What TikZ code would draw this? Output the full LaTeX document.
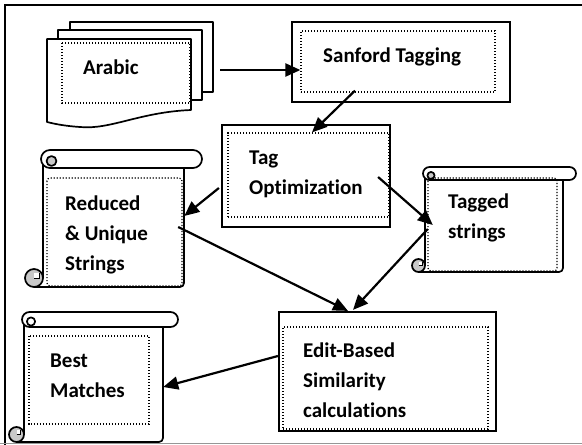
\documentclass[tikz,border=0pt]{standalone}
\usepackage{fontspec}
\setmainfont[Ligatures=NoCommon]{Carlito}
\usetikzlibrary{arrows.meta,calc}
\definecolor{curlgray}{RGB}{200,200,200}
\definecolor{framegray}{RGB}{150,150,150}
\tikzset{
  outline/.style={draw=black, line width=1.7pt, line join=round},
  boxline/.style={draw=black, line width=2.2pt, fill=white, inner sep=0pt},
  dotbox/.style={draw=black, line width=1.2pt, dash pattern=on 1.2pt off 1.8pt, inner sep=0pt},
  region/.style={inner sep=0pt, draw=none},
  label/.style={font=\fontsize{21}{30}\selectfont\bfseries, align=left, anchor=base west, inner sep=0pt},
  arrow/.style={line width=2.2pt, -{Triangle[length=15pt,width=13pt]}},
}
% Horizontal scroll: #1 name, #2 left, #3 top, #4 right, #5 bottom,
% #6 roll height, #7 fill of the upper curl
\newcommand\hscroll[7]{%
  \pgfmathsetmacro\sr{#6/2}%
  \pgfmathsetmacro\sa{\sr-2}%
  \fill[white] (#2,#3+\sr) -- (#2,#5) -- (#4,#5) -- (#4,#3+\sr) -- cycle;
  \draw[outline] (#2,#3+\sr) -- (#2,#5-\sr);
  \draw[outline] (#2-\sr,#5) [rounded corners=4pt] -- (#4,#5) -- (#4,#3+#6);
  \draw[outline, fill=white, rounded corners=\sr pt] (#2+\sa-\sr,#3) rectangle (#4+#6,#3+#6);
  \draw[outline, fill=#7] (#2+\sa+1.5,#3+\sr+2) circle[radius=\sr*0.55];
  \draw[outline, fill=curlgray] (#2-\sr,#5-\sr) circle[radius=\sr];
  \fill[white] (#2-\sr,#5-\sr) rectangle ++(\sr*0.55,-\sr*0.6);
  \draw[line width=0.9pt] (#2-\sr,#5-\sr) -- ++(\sr*0.55,0) -- ++(0,-\sr*0.6);
  \node[region, minimum width=#4-#2, minimum height=#5-#3] (#1) at ({(#2+#4)/2},{(#3+#5)/2}) {};
}
\begin{document}
\begin{tikzpicture}[x=1pt,y=-1pt]
\useasboundingbox (0,0) rectangle (582,445);
% frame
\draw[line width=2.2pt] (5,445) -- (5,5) -- (582,5);
\draw[framegray, line width=1.5pt] (0,443.5) -- (582,443.5);

% stacked documents
\draw[outline, fill=white] (70,22) rectangle (213,92);
\draw[outline, fill=white] (58,30) rectangle (202,100);
\draw[outline, fill=white] (47,39) -- (191,39) -- (191,110)
  .. controls (140,112) and (110,130) .. (80,127)
  .. controls (65,126) and (55,124) .. (47,122) -- cycle;
\node[region, minimum width=144, minimum height=83] (arabic) at (119,80.5) {};
\draw[dotbox] (62,43) rectangle (190,103);
\node[label] (arabictext) at (83,74) {Arabic};

% process boxes (the last line of each label sits on the given baseline)
\node[boxline, minimum width=218, minimum height=80] (sanford) at (401,62) {};
\node[dotbox, minimum width=194, minimum height=61] (sanfordin) at (398,61.5) {};
\node[label] (sanfordtext) at (323,62) {Sanford Tagging};

\node[boxline, minimum width=168, minimum height=102] (tagopt) at (306,176) {};
\node[dotbox, minimum width=161, minimum height=84] (tagoptin) at (308.5,175) {};
\node[label] (tagopttext) at (249,194) {Tag\\Optimization};

\node[boxline, minimum width=217, minimum height=119] (edit) at (387.5,371.5) {};
\node[dotbox, minimum width=205, minimum height=102] (editin) at (385.5,378) {};
\node[label] (edittext) at (303,417) {Edit-Based\\Similarity\\calculations};

% scrolls
\hscroll{reduced}{43}{150}{184}{287}{18}{curlgray}
\draw[dotbox, rounded corners=3pt] (47,178) rectangle (182,286);
\node[label] (reducedtext) at (65,270) {Reduced\\\& Unique\\Strings};

\hscroll{tagged}{425}{167}{563}{272}{13}{curlgray}
\draw[dotbox, rounded corners=3pt] (428,178) rectangle (557,271);
\node[label] (taggedtext) at (448,238) {Tagged\\strings};

\hscroll{best}{24}{312}{163}{442}{15}{white}
\draw[dotbox] (29,336) rectangle (149,424);
\node[label] (besttext) at (50,397) {Best\\Matches};

% connectors
\draw[arrow] ([xshift=29pt,yshift=10.5pt]arabic.east) -- ([yshift=-8.5pt]sanfordin.west);
\draw[arrow] ([xshift=-43pt,yshift=2pt]sanfordin.south) -- ([xshift=3.5pt]tagoptin.north);
\draw[arrow] ([xshift=-2pt,yshift=-12pt]tagopt.west) -- ([yshift=2.5pt]reduced.east);
\draw[arrow] ([xshift=-13pt,yshift=-1pt]tagopt.east) -- ([xshift=8pt,yshift=-5.5pt]tagged.west);
\draw[arrow] ([xshift=-6pt,yshift=-8.5pt]reduced.east) -- ([xshift=-39.5pt]edit.north);
\draw[arrow] ([xshift=3pt,yshift=-9.5pt]tagged.west) -- ([xshift=-34.5pt,yshift=1pt]edit.north);
\draw[arrow] ([yshift=15.5pt]edit.west) -- ([yshift=-10pt]best.east);
\end{tikzpicture}
\end{document}
